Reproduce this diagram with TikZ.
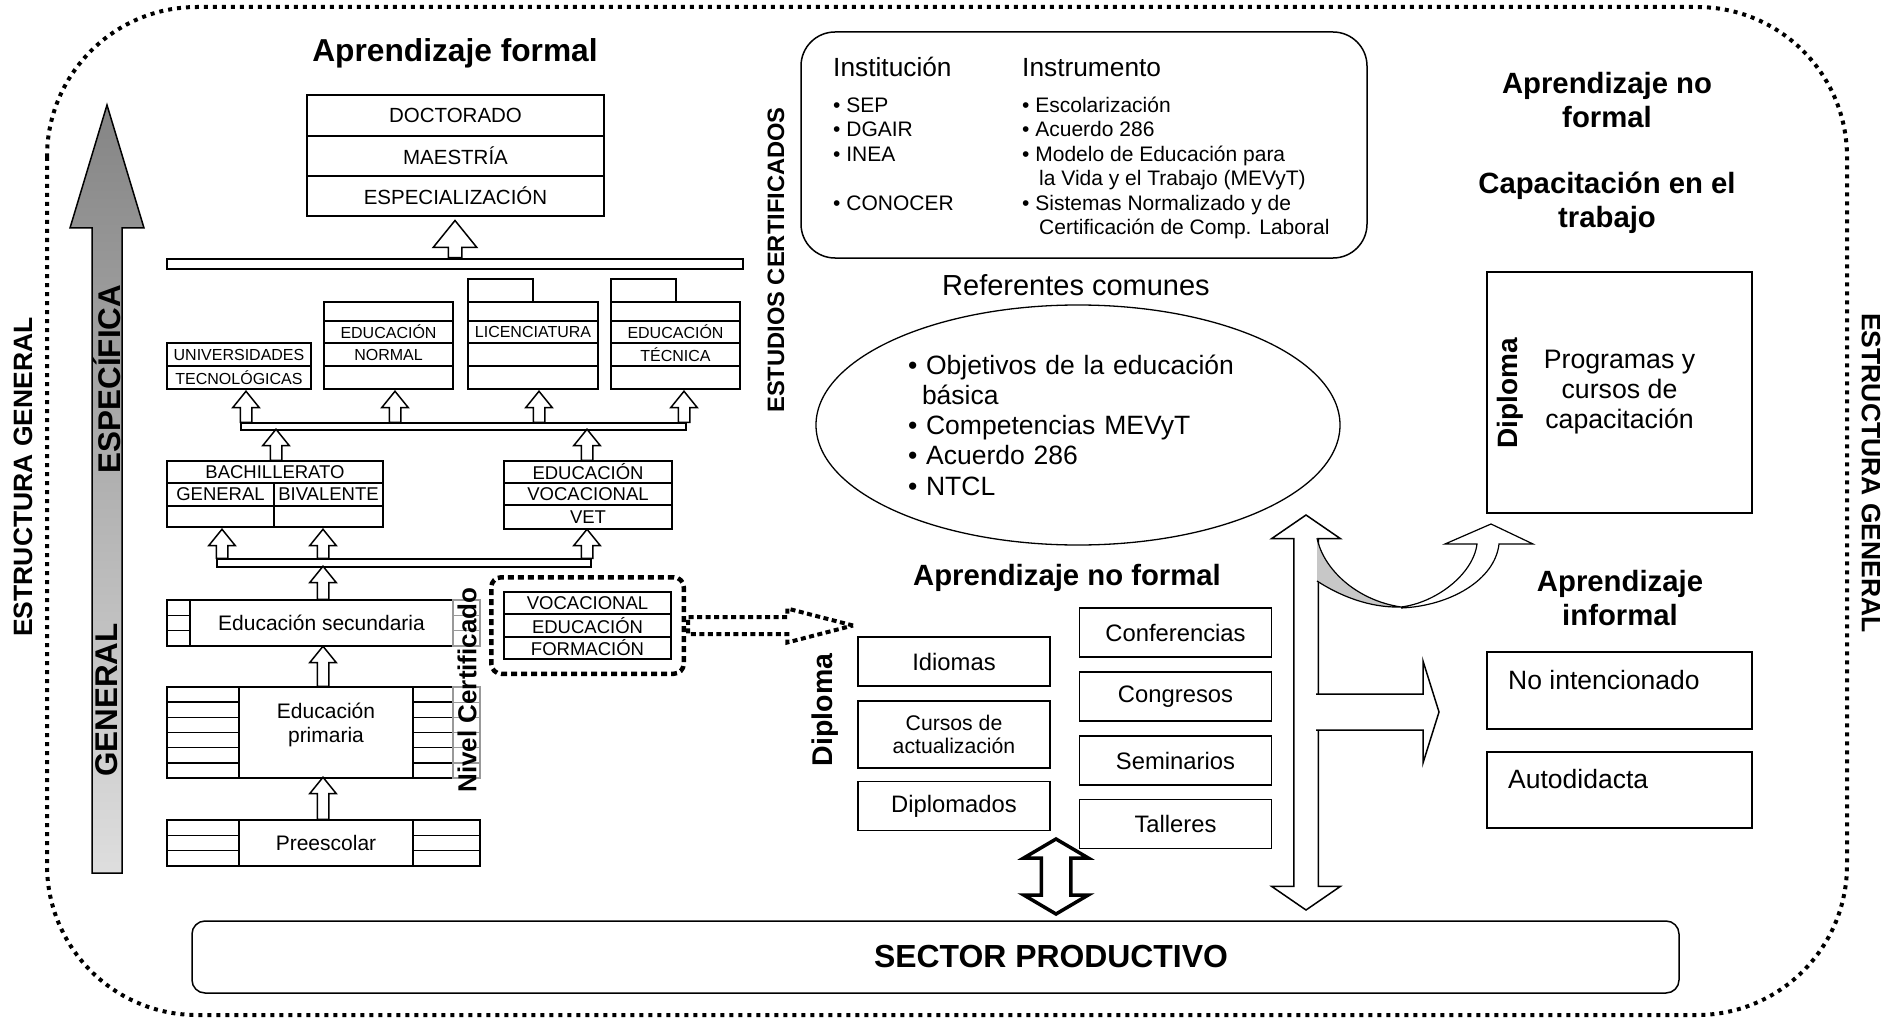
\documentclass[tikz,border=0pt]{standalone}
\usepackage{fontspec}
\setmainfont{Liberation Sans}
\usetikzlibrary{shapes.geometric,shapes.arrows,fit}

\begin{document}
\begin{tikzpicture}
		[x=1pt, y=-1pt, inner sep=0pt,
		heading/.style	= {font=\fontsize{29.3}{34}\selectfont\bfseries, align=center},
		degree/.style	= {rectangle, draw, line width=1.5pt, minimum width=297pt, font=\fontsize{20.5}{24}\selectfont},
		higher/.style	= {rectangle, draw, line width=1.5pt, font=\fontsize{16}{19}\selectfont},
		middle/.style	= {rectangle, draw, line width=1.5pt, font=\fontsize{18.5}{21}\selectfont},
		stage/.style	= {rectangle, draw, line width=1.5pt, minimum width=174pt, font=\fontsize{21}{24}\selectfont, align=center},
		slot/.style		= {rectangle, draw, line width=1.5pt},
		grayslot/.style	= {rectangle, draw=black!40, line width=1.2pt},
		bar/.style		= {rectangle, draw, fill=white, line width=1.5pt},
		hollow/.style	= {single arrow, draw, fill=white, line width=1.5pt, rotate=90, anchor=tail, inner xsep=0pt, inner ysep=5pt, single arrow head extend=7.5pt, single arrow tip angle=78},
		dotbox/.style	= {rectangle, draw, line width=4.5pt, dash pattern=on 6pt off 4pt, rounded corners=10pt},
		dotarrow/.style	= {single arrow, draw, line width=4pt, dash pattern=on 5pt off 3.5pt, anchor=tail, inner xsep=0pt, inner ysep=6.5pt, single arrow head extend=8.5pt, single arrow tip angle=29},
		course/.style	= {rectangle, draw, line width=1.5pt, minimum width=192pt, minimum height=49pt, font=\fontsize{23.8}{27}\selectfont, align=center},
		infbox/.style	= {rectangle, draw, line width=1.5pt, minimum width=265pt},
		instr/.style	= {anchor=base west, font=\fontsize{21}{24}\selectfont},
		envelope/.style	= {line width=4pt, dash pattern=on 4pt off 5pt, rounded corners=150pt}]
		
		\useasboundingbox (0,0) rectangle (1895,1019);
		
		% marco punteado
		\draw [envelope] (47,7) rectangle (1847,1015);
		
		\node at (23, 477)		[rotate=90, font=\fontsize{26.5}{30}\selectfont\bfseries]	(struc1)	{ESTRUCTURA GENERAL};
		\node at (1871, 473)	[rotate=-90, font=\fontsize{26.5}{30}\selectfont\bfseries]	(struc2)	{ESTRUCTURA GENERAL};
		
		% flecha general - especifica
		\shadedraw [top color=black!48, bottom color=black!13, line width=1.5pt] (92,873) -- (92,228) -- (70,228) -- (107,105) -- (144,228) -- (122,228) -- (122,873) -- cycle;
		\node at (107, 379)		[rotate=90, font=\fontsize{31.4}{34}\selectfont\bfseries]	(spec)	{ESPECÍFICA};
		\node at (107, 700)		[rotate=90, font=\fontsize{31.4}{34}\selectfont\bfseries]	(gen)	{GENERAL};
		
		% aprendizaje formal
		\node at (455, 53)		[heading, font=\fontsize{31.7}{34}\selectfont\bfseries]	(formal)	{Aprendizaje formal};
		
		\node at (455.5, 115.5)	[degree, minimum height=41pt]	(doc)	{DOCTORADO};
		\node at (455.5, 156)	[degree, minimum height=40pt]	(mae)	{MAESTRÍA};
		\node at (455.5, 196)	[degree, minimum height=40pt]	(esp)	{ESPECIALIZACIÓN};
		
		\node at (455, 264)		[bar, minimum width=576pt, minimum height=10pt]	(bar1)	{};
		\node at (bar1.north)	[hollow, minimum height=37pt, inner ysep=6pt, single arrow head extend=15pt]	(up1)	{};
		
		\node at (239, 354.5)	[higher, minimum width=144pt, minimum height=23pt]	(ut1)	{UNIVERSIDADES};
		\node at (239, 377.5)	[higher, minimum width=144pt, minimum height=23pt]	(ut2)	{TECNOLÓGICAS};
		
		\node at (388.5, 311.5)	[higher, minimum width=129pt, minimum height=19pt]	(en1)	{};
		\node at (388.5, 332)	[higher, minimum width=129pt, minimum height=22pt]	(en2)	{EDUCACIÓN};
		\node at (388.5, 354.5)	[higher, minimum width=129pt, minimum height=23pt]	(en3)	{NORMAL};
		\node at (388.5, 377.5)	[higher, minimum width=129pt, minimum height=23pt]	(en4)	{};
		
		\node at (500.5, 290.5)	[higher, minimum width=65pt, minimum height=23pt]	(lic0)	{};
		\node at (533, 311.5)	[higher, minimum width=130pt, minimum height=19pt]	(lic1)	{};
		\node at (533, 332)		[higher, minimum width=130pt, minimum height=22pt]	(lic2)	{LICENCIATURA};
		\node at (533, 354.5)	[higher, minimum width=130pt, minimum height=23pt]	(lic3)	{};
		\node at (533, 377.5)	[higher, minimum width=130pt, minimum height=23pt]	(lic4)	{};
		
		\node at (643.5, 290.5)	[higher, minimum width=65pt, minimum height=23pt]	(et0)	{};
		\node at (675.5, 311.5)	[higher, minimum width=129pt, minimum height=19pt]	(et1)	{};
		\node at (675.5, 332)	[higher, minimum width=129pt, minimum height=22pt]	(et2)	{EDUCACIÓN};
		\node at (675.5, 354.5)	[higher, minimum width=129pt, minimum height=23pt]	(et3)	{TÉCNICA};
		\node at (675.5, 377.5)	[higher, minimum width=129pt, minimum height=23pt]	(et4)	{};
		
		\node at (463.5, 426.5)	[bar, minimum width=445pt, minimum height=7pt]	(bar2)	{};
		\node at (246, 423)		[hollow, minimum height=31pt]	(up2a)	{};
		\node at (395, 423)		[hollow, minimum height=31pt]	(up2b)	{};
		\node at (539, 423)		[hollow, minimum height=31pt]	(up2c)	{};
		\node at (684, 423)		[hollow, minimum height=31pt]	(up2d)	{};
		
		\node at (275, 472)		[middle, minimum width=216pt, minimum height=22pt]	(bach1)	{BACHILLERATO};
		\node at (220.5, 494.5)	[middle, minimum width=107pt, minimum height=23pt]	(bach2)	{GENERAL};
		\node at (328.5, 494.5)	[middle, minimum width=109pt, minimum height=23pt]	(bach3)	{BIVALENTE};
		\node at (220.5, 516.5)	[middle, minimum width=107pt, minimum height=21pt]	(bach4)	{};
		\node at (328.5, 516.5)	[middle, minimum width=109pt, minimum height=21pt]	(bach5)	{};
		
		\node at (588, 472)		[middle, minimum width=168pt, minimum height=22pt]	(evv1)	{EDUCACIÓN};
		\node at (588, 494)		[middle, minimum width=168pt, minimum height=22pt]	(evv2)	{VOCACIONAL};
		\node at (588, 517)		[middle, minimum width=168pt, minimum height=24pt]	(evv3)	{VET};
		
		\node at (276, 461)		[hollow, minimum height=31pt]	(up3a)	{};
		\node at (587, 461)		[hollow, minimum height=31pt]	(up3b)	{};
		
		\node at (404, 563)		[bar, minimum width=374pt, minimum height=8pt]	(bar3)	{};
		\node at (222, 559)		[hollow, minimum height=29pt]	(up4a)	{};
		\node at (323, 559)		[hollow, minimum height=29pt]	(up4b)	{};
		\node at (587, 559)		[hollow, minimum height=29pt]	(up4c)	{};
		
		% educacion basica
		\node at (321.5, 623)	[stage, minimum width=263pt, minimum height=46pt]	(sec)	{Educación secundaria};
		\node at (178.5, 607.7)	[slot, minimum width=23pt, minimum height=15.3pt]	(s1)	{};
		\node at (178.5, 623)	[slot, minimum width=23pt, minimum height=15.3pt]	(s2)	{};
		\node at (178.5, 638.3)	[slot, minimum width=23pt, minimum height=15.3pt]	(s3)	{};
		\node at (466.5, 607.7)	[grayslot, minimum width=27pt, minimum height=15.3pt]	(g1)	{};
		\node at (466.5, 623)	[grayslot, minimum width=27pt, minimum height=15.3pt]	(g2)	{};
		\node at (466.5, 638.3)	[grayslot, minimum width=27pt, minimum height=15.3pt]	(g3)	{};
		\node at (323, 600)		[hollow, minimum height=33pt]	(up5)	{};
		
		\node at (326, 732.5)	[stage, minimum height=91pt, text depth=20pt]	(prim)	{Educación\\primaria};
		\node at (203, 694.6)	[slot, minimum width=72pt, minimum height=15.2pt]	(p1)	{};
		\node at (203, 709.8)	[slot, minimum width=72pt, minimum height=15.2pt]	(p2)	{};
		\node at (203, 724.9)	[slot, minimum width=72pt, minimum height=15.2pt]	(p3)	{};
		\node at (203, 740.1)	[slot, minimum width=72pt, minimum height=15.2pt]	(p4)	{};
		\node at (203, 755.3)	[slot, minimum width=72pt, minimum height=15.2pt]	(p5)	{};
		\node at (203, 770.4)	[slot, minimum width=72pt, minimum height=15.2pt]	(p6)	{};
		\node at (433, 694.6)	[slot, minimum width=40pt, minimum height=15.2pt]	(q1)	{};
		\node at (433, 709.8)	[slot, minimum width=40pt, minimum height=15.2pt]	(q2)	{};
		\node at (433, 724.9)	[slot, minimum width=40pt, minimum height=15.2pt]	(q3)	{};
		\node at (433, 740.1)	[slot, minimum width=40pt, minimum height=15.2pt]	(q4)	{};
		\node at (433, 755.3)	[slot, minimum width=40pt, minimum height=15.2pt]	(q5)	{};
		\node at (433, 770.4)	[slot, minimum width=40pt, minimum height=15.2pt]	(q6)	{};
		\node at (466.5, 694.6)	[grayslot, minimum width=27pt, minimum height=15.2pt]	(r1)	{};
		\node at (466.5, 709.8)	[grayslot, minimum width=27pt, minimum height=15.2pt]	(r2)	{};
		\node at (466.5, 724.9)	[grayslot, minimum width=27pt, minimum height=15.2pt]	(r3)	{};
		\node at (466.5, 740.1)	[grayslot, minimum width=27pt, minimum height=15.2pt]	(r4)	{};
		\node at (466.5, 755.3)	[grayslot, minimum width=27pt, minimum height=15.2pt]	(r5)	{};
		\node at (466.5, 770.4)	[grayslot, minimum width=27pt, minimum height=15.2pt]	(r6)	{};
		\node at (323, 687)		[hollow, minimum height=40pt]	(up6)	{};
		
		\node at (326, 843)		[stage, minimum height=46pt]	(pre)	{Preescolar};
		\node at (203, 827.7)	[slot, minimum width=72pt, minimum height=15.3pt]	(e1)	{};
		\node at (203, 843)		[slot, minimum width=72pt, minimum height=15.3pt]	(e2)	{};
		\node at (203, 858.3)	[slot, minimum width=72pt, minimum height=15.3pt]	(e3)	{};
		\node at (446.5, 827.7)	[slot, minimum width=67pt, minimum height=15.3pt]	(f1)	{};
		\node at (446.5, 843)	[slot, minimum width=67pt, minimum height=15.3pt]	(f2)	{};
		\node at (446.5, 858.3)	[slot, minimum width=67pt, minimum height=15.3pt]	(f3)	{};
		\node at (323, 820)		[hollow, minimum height=42pt]	(up7)	{};
		
		\node at (467, 690)		[rotate=90, font=\fontsize{26}{30}\selectfont\bfseries]	(nivel)	{Nivel Certificado};
		
		% formacion vocacional
		\node at (587.5, 603)	[middle, minimum width=167pt, minimum height=22pt]	(v1)	{VOCACIONAL};
		\node at (587.5, 625.5)	[middle, minimum width=167pt, minimum height=23pt]	(v2)	{EDUCACIÓN};
		\node at (587.5, 648)	[middle, minimum width=167pt, minimum height=22pt]	(v3)	{FORMACIÓN};
		\node [dotbox, fit=(v1)(v3), inner xsep=12pt, inner ysep=14pt]	(vocbox)	{};
		\node at (vocbox.east)	[dotarrow, minimum height=165pt]	(vocarr)	{};
		
		\node at (776, 260)		[rotate=90, font=\fontsize{23.7}{26}\selectfont\bfseries]	(certif)	{ESTUDIOS CERTIFICADOS};
		
		% institucion e instrumento
		\node at (1084, 145)	[rectangle, draw, line width=1.5pt, rounded corners=34pt, minimum width=566pt, minimum height=226pt]	(inst)	{};
		\node at (833, 76.5)	[anchor=base west, font=\fontsize{26.3}{30}\selectfont]	(instA)	{Institución};
		\node at (1022, 76.5)	[anchor=base west, font=\fontsize{26.3}{30}\selectfont]	(instB)	{Instrumento};
		\node at (833, 112.6)	[instr]	(iA1)	{• SEP};
		\node at (833, 137)		[instr]	(iA2)	{• DGAIR};
		\node at (833, 161.4)	[instr]	(iA3)	{• INEA};
		\node at (833, 210.2)	[instr]	(iA4)	{• CONOCER};
		\node at (1022, 112.6)	[instr]	(iB1)	{• Escolarización};
		\node at (1022, 137)	[instr]	(iB2)	{• Acuerdo 286};
		\node at (1022, 161.4)	[instr]	(iB3)	{• Modelo de Educación para};
		\node at (1039, 185.8)	[instr]	(iB4)	{la Vida y el Trabajo (MEVyT)};
		\node at (1022, 210.2)	[instr]	(iB5)	{• Sistemas Normalizado y de};
		\node at (1039, 234.6)	[instr]	(iB6)	{Certificación de Comp. Laboral};
		
		% referentes comunes
		\node at (1076, 285)	[font=\fontsize{29}{32}\selectfont]	(refcom)	{Referentes comunes};
		\node at (1078, 425)	[ellipse, draw, line width=1.3pt, minimum width=524pt, minimum height=240pt, text width=340pt, align=left, font=\fontsize{26.5}{30.2}\selectfont]	(refs)	{• Objetivos de la educación\\\hspace*{14pt}básica\\• Competencias MEVyT\\• Acuerdo 286\\• NTCL};
		
		% aprendizaje no formal
		\node at (1067, 578)	[heading]	(nonformal)	{Aprendizaje no formal};
		\node at (825, 710)		[rotate=90, font=\fontsize{28.5}{30}\selectfont\bfseries]	(dipl2)	{Diploma};
		
		\node at (954, 661.5)	[course]	(idi)	{Idiomas};
		\node at (954, 734.5)	[course, minimum height=67pt, font=\fontsize{21.2}{23}\selectfont]	(cur)	{Cursos de\\actualización};
		\node at (954, 806)		[course]	(dip)	{Diplomados};
		
		\node at (1175.5, 632.5)	[course]	(con)	{Conferencias};
		\node at (1175.5, 696.5)	[course]	(cong)	{Congresos};
		\node at (1175.5, 760.5)	[course]	(sem)	{Seminarios};
		\node at (1175.5, 824)		[course]	(tal)	{Talleres};
		
		% sector productivo
		\node at (935.5, 957)	[rectangle, draw, line width=1.5pt, rounded corners=13pt, minimum width=1487pt, minimum height=72pt, font=\fontsize{31.9}{34}\selectfont\bfseries]	(sector)	{\hspace*{231pt}SECTOR PRODUCTIVO};
		\node at (1056, 876.5)	[double arrow, draw, fill=white, line width=3.5pt, rotate=90, minimum height=75pt, inner xsep=0pt, inner ysep=13pt, double arrow head extend=17.5pt, double arrow tip angle=119]	(link)	{};
		
		% flecha vertical y sus ramas
		\node at (1306, 712.5)	[double arrow, draw, fill=white, line width=1.5pt, rotate=90, minimum height=395pt, inner xsep=0pt, inner ysep=11.5pt, double arrow head extend=22pt, double arrow tip angle=111]	(vlink)	{};
		\filldraw [fill=white, line width=1.5pt] (1316,694) -- (1423,694) -- (1423,661) -- (1439,712) -- (1423,763) -- (1423,730) -- (1316,730);
		\filldraw [fill=black!22, line width=1.2pt] (1317,538) .. controls (1323,568) and (1355,600) .. (1401,607) .. controls (1370,608) and (1340,596) .. (1317,581);
		\filldraw [fill=white, line width=1.2pt] (1401,607) .. controls (1435,603) and (1473,575) .. (1477,544) -- (1445,544) -- (1491,524) -- (1533,544) -- (1499,544) .. controls (1495,580) and (1450,606) .. (1401,608);
		
		% capacitacion en el trabajo
		\node at (1607, 100.5)	[heading]	(nfor)	{Aprendizaje no\\formal};
		\node at (1607, 202.5)	[heading]	(capac)	{Capacitación en el\\trabajo};
		\node at (1619.5, 392.5)	[infbox, minimum height=241pt, font=\fontsize{26.7}{30}\selectfont, align=center]	(prog)	{Programas y\\cursos de\\capacitación};
		\node at (1510, 393)	[rotate=90, font=\fontsize{28}{30}\selectfont\bfseries]	(dipl1)	{Diploma};
		
		% aprendizaje informal
		\node at (1620, 598.5)	[heading]	(infor)	{Aprendizaje\\informal};
		\node at (1619.5, 690.5)	[infbox, minimum height=77pt]	(noint)	{};
		\node at (1508, 680)	[anchor=west, font=\fontsize{26.5}{30}\selectfont]	(nointtxt)	{No intencionado};
		\node at (1619.5, 790)	[infbox, minimum height=76pt]	(autod)	{};
		\node at (1508, 779)	[anchor=west, font=\fontsize{26.5}{30}\selectfont]	(autodtxt)	{Autodidacta};
		
		\end{tikzpicture}
\end{document}
